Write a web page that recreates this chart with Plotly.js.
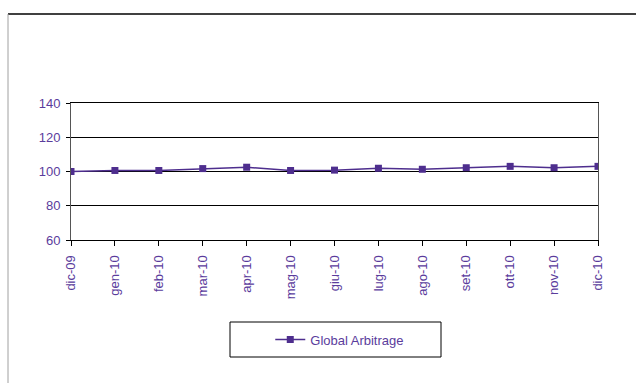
<!DOCTYPE html>
<html>
<head>
<meta charset="utf-8">
<script src="https://cdn.plot.ly/plotly-3.0.1.min.js"></script>
<style>html,body{margin:0;padding:0;background:#fff;}#chart{width:636px;height:383px;}</style>
</head>
<body>
<div id="chart"></div>
<script>
const categories = ["dic-09","gen-10","feb-10","mar-10","apr-10","mag-10","giu-10","lug-10","ago-10","set-10","ott-10","nov-10","dic-10"];
const seriesName = "Global Arbitrage";
const values = [100, 100.6, 100.6, 101.7, 102.5, 100.6, 100.8, 101.9, 101.3, 102.2, 103.0, 102.2, 103.0];
const yTicks = [60, 80, 100, 120, 140];

const W = 636, H = 383, L = 71, R = 598, T = 103, B = 240;
const px = x => (x - L) / (R - L);
const py = y => (B - y) / (B - T);
const purple = "#4e2e8e";
const textPurple = "#5a3c9c";

const trace = {
  x: categories, y: values, name: seriesName, type: "scatter", mode: "lines+markers",
  line: {color: purple, width: 1.5},
  marker: {symbol: "square", size: 7, color: purple}
};

const layout = {
  width: W, height: H,
  margin: {l: L, r: W - R, t: T, b: H - B, pad: 0},
  paper_bgcolor: "#fff", plot_bgcolor: "#fff",
  font: {family: "Liberation Sans, Arial, sans-serif", size: 13, color: textPurple},
  showlegend: true,
  legend: {x: 0.51, y: py(339.5), xanchor: "center", yanchor: "middle", bgcolor: "rgba(0,0,0,0)",
           borderwidth: 0, font: {size: 13, color: textPurple}},
  xaxis: {type: "category", range: [0, 12], showgrid: false, showline: true, linecolor: "#000", linewidth: 1,
          mirror: true, ticks: "outside", ticklen: 5, tickcolor: "#000", tickangle: -90, zeroline: false,
          ticklabelstandoff: 4, tickfont: {size: 13, color: textPurple}},
  yaxis: {range: [60, 140], tickvals: yTicks, showgrid: true, gridcolor: "#000", gridwidth: 1,
          showline: true, linecolor: "#555", linewidth: 1, mirror: true, ticks: "outside", ticklen: 4,
          tickcolor: "#000", zeroline: false, ticklabelstandoff: 3, tickfont: {size: 13, color: textPurple}},
  shapes: [
    {type: "line", xref: "paper", yref: "paper", x0: px(8), x1: px(640), y0: py(14), y1: py(14), line: {color: "#404040", width: 2}},
    {type: "line", xref: "paper", yref: "paper", x0: px(8), x1: px(8), y0: py(14), y1: py(390), line: {color: "#a0a0a0", width: 1}},
    {type: "rect", xref: "paper", yref: "paper", x0: px(230), x1: px(441), y0: py(357), y1: py(322), line: {color: "#000", width: 1}}
  ]
};

Plotly.newPlot("chart", [trace], layout, {displayModeBar: false, staticPlot: true});
</script>
</body>
</html>
